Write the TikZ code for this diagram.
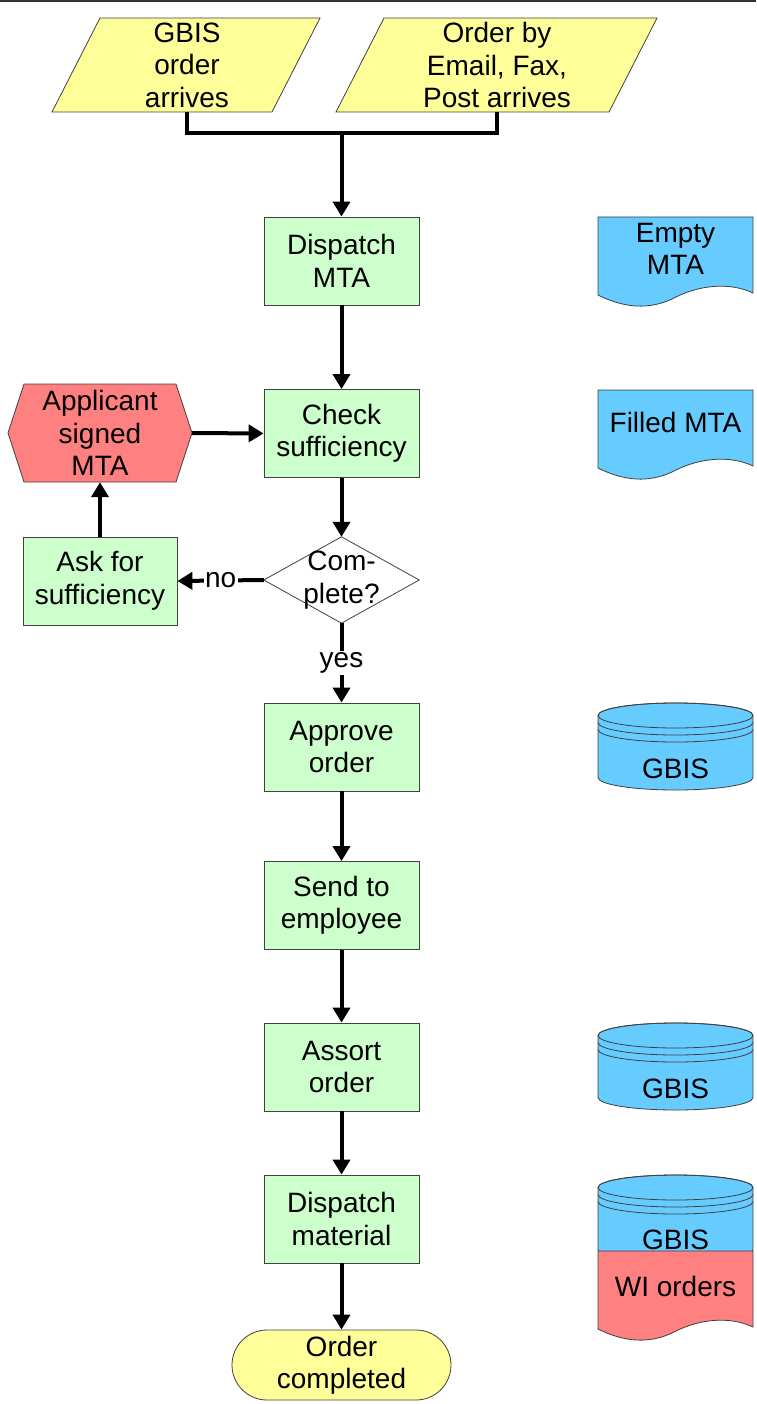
\documentclass[tikz,border=0pt]{standalone}
\usepackage{fontspec}
\setmainfont{Liberation Sans}
\usetikzlibrary{arrows.meta}
\definecolor{ylw}{HTML}{FFFF99}
\definecolor{grn}{HTML}{CCFFCC}
\definecolor{blu}{HTML}{66CCFF}
\definecolor{rd}{HTML}{FF8080}
\tikzset{
  shp/.style={draw=black!75, line width=0.8pt},
  box/.style={shp, fill=grn, minimum width=155pt, minimum height=88pt},
  conn/.style={line width=4pt, -{Triangle[length=15pt,width=17pt]}},
  wire/.style={line width=4pt},
  lbl/.style={fill=white, inner sep=1.5pt},
  cyl/.pic={
    \path[shp, fill=blu] (-77.5,0) -- (-77.5,62)
      arc[start angle=180,end angle=360,x radius=77.5pt,y radius=12.5pt]
      -- (77.5,0)
      arc[start angle=0,end angle=180,x radius=77.5pt,y radius=12.5pt] -- cycle;
    \draw[shp] (0,0) ellipse[x radius=77.5pt,y radius=12.5pt];
    \draw[shp] (-77.5,7) arc[start angle=180,end angle=360,x radius=77.5pt,y radius=12.5pt];
    \draw[shp] (-77.5,14) arc[start angle=180,end angle=360,x radius=77.5pt,y radius=12.5pt];
  },
  doc/.pic={
    \path[shp, pic actions] (0,0) -- (155,0) -- (155,76)
      .. controls (132,65) and (102,68) .. (78,80)
      .. controls (57,91) and (32,94) .. (0,78) -- cycle;
  },
}
\begin{document}
\begin{tikzpicture}[x=1pt,y=-1pt,
  every node/.style={font=\fontsize{28}{32.5}\selectfont, align=center, inner sep=0pt}]
\useasboundingbox (0,0) rectangle (756,1404);
% top rule
\draw[line width=2pt, black!80] (0,1) -- (756,1);

% input parallelograms
\path[shp, fill=ylw] (52,112) -- (100,18) -- (320,18) -- (272,112) -- cycle;
\path[shp, fill=ylw] (336,112) -- (384,18) -- (657,18) -- (609,112) -- cycle;
\node[minimum width=170pt, minimum height=94pt] (p1) at (187,65) {GBIS\\order\\arrives};
\node[minimum width=220pt, minimum height=94pt] (p2) at (497,65) {Order by\\Email, Fax,\\Post arrives};
\coordinate (j) at (341.5,133);

% main column
\node[box] (d1) at (341.5,261) {Dispatch\\MTA};
\node[box] (check) at (341.5,433.5) {Check\\sufficiency};
\node[minimum width=155pt, minimum height=86pt] (dia) at (341.5,580) {};
\path[shp, fill=white] (dia.north) -- (dia.east) -- (dia.south) -- (dia.west) -- cycle;
\node at (dia.center) {Com-\\plete?};
\node[box] (approve) at (341.5,747) {Approve\\order};
\node[box] (send) at (341.5,905.5) {Send to\\employee};
\node[box] (assort) at (341.5,1067) {Assort\\order};
\node[box] (dispmat) at (341.5,1219) {Dispatch\\material};
\node[shp, fill=ylw, rounded corners=35pt, minimum width=219pt, minimum height=70pt] (done) at (341.5,1365) {Order\\completed};

% left column
\path[shp, fill=rd] (8,433) -- (24,384) -- (176,384) -- (192,433) -- (176,482) -- (24,482) -- cycle;
\node[minimum width=184pt, minimum height=98pt] (app) at (100,433) {Applicant\\signed\\MTA};
\node[box, minimum width=154pt] (ask) at (100,581) {Ask for\\sufficiency};

% right column: documents and stores
\pic[fill=blu] at (598,217) {doc};
\node (emt) at (675.5,249) {Empty\\MTA};
\pic[fill=blu] at (598,390) {doc};
\node (fmt) at (675.5,422) {Filled MTA};
\pic at (675.5,715.5) {cyl};
\node (g1) at (675.5,769) {GBIS};
\pic at (675.5,1035.5) {cyl};
\node (g2) at (675.5,1089) {GBIS};
\pic at (675.5,1187.5) {cyl};
\node (g3) at (675.5,1240) {GBIS};
\pic[fill=rd] at (598,1251) {doc};
\node (wi) at (675.5,1286) {WI orders};

% connectors
\draw[wire] (p1.south) |- (j) -| (p2.south);
\draw[conn] (j) -- (d1.north);
\draw[conn] (d1) -- (check);
\draw[conn] (app.east) -- (check.west);
\draw[conn] (check) -- (dia.north);
\draw[conn] (dia.west) -- node[lbl] {no} (ask.east);
\draw[conn] (ask.north) -- (app.south);
\draw[conn] (dia.south) -- node[lbl] {yes} (approve.north);
\draw[conn] (approve) -- (send);
\draw[conn] (send) -- (assort);
\draw[conn] (assort) -- (dispmat);
\draw[conn] (dispmat) -- (done);
\end{tikzpicture}
\end{document}
